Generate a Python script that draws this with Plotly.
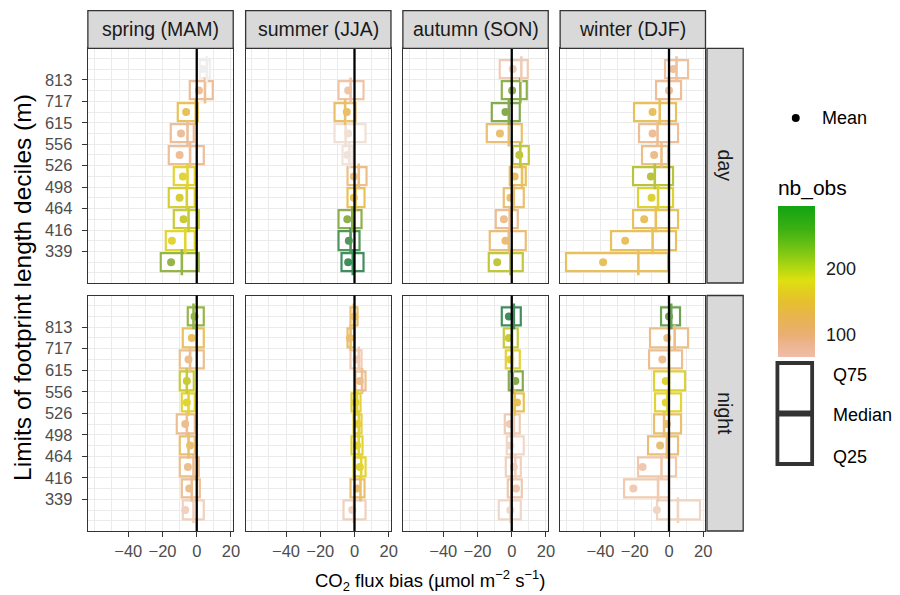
import plotly.graph_objects as go
from plotly.subplots import make_subplots

# ---------------- data ----------------
seasons = ["spring (MAM)", "summer (JJA)", "autumn (SON)", "winter (DJF)"]
periods = ["day", "night"]
decile_labels = ["339", "416", "464", "498", "526", "556", "615", "717", "813"]
bins = [1, 2, 3, 4, 5, 6, 7, 8, 9, 10]  # bottom (< 339) to top (> 813)

# day
q25_spring_day = [-20.8, -18.3, -13.5, -16.0, -13.1, -16.4, -15.4, -11.2, -3.9, 1.9]
med_spring_day = [-8.7, -6.7, -4.8, -5.8, -5.4, -3.9, -5.4, -0.6, 4.8, 5.8]
q75_spring_day = [1.0, -1.0, 1.5, -1.0, -1.0, 4.4, -1.9, 0.6, 9.6, 7.7]
mean_spring_day = [-15.0, -14.5, -7.7, -10.0, -8.1, -10.0, -9.2, -6.2, 1.3, 3.3]
nb_spring_day = [220, 170, 190, 180, 170, 90, 90, 130, 90, 30]

q25_summer_day = [-7.5, -9.1, -9.1, -4.2, -3.9, -7.1, -11.9, -11.6, -9.4, None]
med_summer_day = [-1.0, -2.3, -1.3, 0.6, 2.5, -3.0, -5.2, -5.5, -2.3, None]
q75_summer_day = [5.4, 3.1, 4.4, 6.0, 7.3, -1.3, 6.4, 0.6, 5.4, None]
mean_summer_day = [-3.7, -3.3, -4.2, -0.4, -0.4, -4.2, -3.7, -4.5, -3.7, None]
nb_summer_day = [280, 265, 225, 130, 100, 45, 50, 120, 80, None]

q25_autumn_day = [-13.3, -12.9, -9.4, -4.6, -1.2, 0.6, -14.3, -11.4, -5.6, -6.9]
med_autumn_day = [-0.8, -1.7, -1.2, 1.2, 6.0, 5.0, -1.7, -1.7, 5.0, 5.6]
q75_autumn_day = [6.4, 8.3, 3.7, 6.9, 8.5, 9.8, 6.0, 5.0, 8.9, 9.4]
mean_autumn_day = [-8.5, -3.7, -4.6, -0.8, 1.7, 4.4, -6.9, -3.7, 0.2, 0.6]
nb_autumn_day = [195, 110, 95, 115, 125, 195, 115, 230, 225, 70]

q25_winter_day = [-60.1, -34.1, -21.0, -17.9, -21.0, -15.8, -17.3, -20.2, -7.3, -2.3]
med_winter_day = [-17.9, -9.6, -7.7, -6.4, -8.3, -4.4, -6.7, -5.4, 0.0, 4.4]
q75_winter_day = [-0.6, 4.2, 5.2, 2.3, 2.3, -0.6, 5.2, 4.4, 7.1, 11.0]
mean_winter_day = [-38.5, -25.6, -14.5, -10.2, -10.6, -8.7, -9.6, -9.6, 0.0, 2.5]
nb_winter_day = [125, 125, 125, 175, 200, 100, 90, 125, 90, 85]

# night
q25_spring_night = [-8.3, -8.7, -9.6, -9.6, -11.6, -8.7, -10.0, -9.6, -8.1, -5.4]
med_spring_night = [-1.9, -2.9, -1.9, -4.8, -5.8, -4.8, -5.8, -3.9, 0.0, -1.9]
q75_spring_night = [3.9, 1.9, 1.3, -1.3, -1.3, -1.0, -1.5, 3.9, 4.4, 3.9]
mean_spring_night = [-6.7, -4.4, -5.2, -3.9, -6.7, -5.8, -5.8, -4.8, -2.9, -1.3]
nb_spring_night = [65, 95, 95, 115, 95, 170, 190, 95, 125, 220]

q25_summer_night = [-6.6, -2.3, -0.8, -1.7, -0.4, -1.7, 0.6, -2.3, -3.9, -2.3]
med_summer_night = [-0.4, 3.5, 3.9, 2.5, 2.5, 1.5, 4.4, 2.5, -2.3, -0.4]
q75_summer_night = [6.7, 5.8, 6.4, 4.8, 4.4, 3.5, 6.4, 4.4, 0.0, 1.9]
mean_summer_night = [-1.3, 1.5, 3.1, 1.5, 1.9, 0.6, 3.1, 1.2, -2.7, 0.0]
nb_summer_night = [65, 115, 170, 170, 160, 165, 95, 70, 115, 115]

q25_autumn_night = [-7.5, -2.3, -3.7, -2.7, -4.2, 0.6, -1.7, -3.7, -4.6, -5.6]
med_autumn_night = [-0.8, -0.2, 2.1, 0.2, 1.2, 1.7, 0.6, 0.6, 0.2, 1.2]
q75_autumn_night = [5.4, 6.0, 5.6, 7.3, 5.0, 6.9, 6.4, 4.6, 3.7, 5.6]
mean_autumn_night = [-0.8, 2.5, 1.2, -0.8, -1.2, 3.1, 2.1, -0.8, -1.7, -1.7]
nb_autumn_night = [60, 75, 65, 60, 70, 130, 230, 160, 190, 280]

q25_winter_night = [-6.7, -26.0, -17.9, -12.1, -8.7, -8.3, -8.7, -11.6, -11.0, -4.8]
med_winter_night = [5.2, -6.4, -4.4, -1.3, -2.9, -1.0, 0.0, 0.0, 3.3, 1.3]
q75_winter_night = [17.9, 0.0, 4.2, 5.2, 7.1, 7.1, 9.2, 7.7, 11.0, 6.4]
mean_winter_night = [-7.1, -20.8, -15.4, -5.2, -1.3, -1.9, -1.9, -3.9, -1.0, 0.0]
nb_winter_night = [62, 72, 75, 110, 115, 170, 175, 95, 100, 245]

nb_min, nb_max = 66, 295
nb_ticks = [100, 200]

panels = {
    ("day", 0): (q25_spring_day, med_spring_day, q75_spring_day, mean_spring_day, nb_spring_day),
    ("day", 1): (q25_summer_day, med_summer_day, q75_summer_day, mean_summer_day, nb_summer_day),
    ("day", 2): (q25_autumn_day, med_autumn_day, q75_autumn_day, mean_autumn_day, nb_autumn_day),
    ("day", 3): (q25_winter_day, med_winter_day, q75_winter_day, mean_winter_day, nb_winter_day),
    ("night", 0): (q25_spring_night, med_spring_night, q75_spring_night, mean_spring_night, nb_spring_night),
    ("night", 1): (q25_summer_night, med_summer_night, q75_summer_night, mean_summer_night, nb_summer_night),
    ("night", 2): (q25_autumn_night, med_autumn_night, q75_autumn_night, mean_autumn_night, nb_autumn_night),
    ("night", 3): (q25_winter_night, med_winter_night, q75_winter_night, mean_winter_night, nb_winter_night),
}

# ---------------- styles ----------------
OFF = 8  # page body margin
W, H = 900 - OFF, 595 - OFF
FONT = "Liberation Sans, Arial, sans-serif"

mark_stops = [(30, "#EEEEEE"), (55, "#F2DCD0"), (70, "#F0CCB4"), (90, "#EDBE98"),
              (110, "#EBBE78"), (125, "#E9C05E"), (150, "#E6CC40"), (170, "#E2D432"),
              (190, "#C8CA38"), (210, "#A8BE44"), (230, "#84AC4E"), (260, "#56985A"),
              (285, "#3C8C5E")]


def hex2rgb(h):
    h = h.lstrip("#")
    return tuple(int(h[i:i + 2], 16) for i in (0, 2, 4))


def nb_color(v):
    if v <= mark_stops[0][0]:
        return mark_stops[0][1]
    for (a, ca), (b, cb) in zip(mark_stops[:-1], mark_stops[1:]):
        if v <= b:
            t = (v - a) / (b - a)
            ra, rb = hex2rgb(ca), hex2rgb(cb)
            r = [round(ra[i] + t * (rb[i] - ra[i])) for i in range(3)]
            return "rgb(%d,%d,%d)" % tuple(r)
    return mark_stops[-1][1]


cb_colors = [(66, "#EFBEA8"), (85, "#EDB490"), (100, "#E9AF72"), (125, "#E8B450"),
             (150, "#E5C02E"), (170, "#E2D21A"), (182, "#DFE010"), (200, "#B4D810"),
             (230, "#74C414"), (260, "#3CB012"), (295, "#12A412")]
colorscale = [[(v - nb_min) / (nb_max - nb_min), c] for v, c in cb_colors]

col_px = [(88.5, 235.0), (247.5, 394.0), (406.0, 552.5), (564.5, 711.0)]
row_px = [(48.3, 283.0), (295.5, 531.0)]
XR = [-63.6, 21.3]
YR = [0.03, 10.97]
CB_X0, CB_X1, CB_Y0, CB_Y1 = 784.0, 821.0, 206.7, 356.7  # colour bar box (page px)


def px(x):
    return (x - OFF) / W


def py(y):
    return 1 - (y - OFF) / H


fig = make_subplots(rows=2, cols=4)

for (per, ci), (q25, med, q75, mn, nb) in panels.items():
    ri = periods.index(per)
    idx = [i for i in range(len(bins)) if q25[i] is not None]
    yy = [bins[i] for i in idx]
    cols = [nb_color(nb[i]) for i in idx]
    fig.add_trace(go.Bar(
        orientation="h", y=yy, base=[q25[i] for i in idx],
        x=[q75[i] - q25[i] for i in idx], width=0.85,
        marker=dict(color="white", line=dict(color=cols, width=2.2)),
        showlegend=False, hoverinfo="skip"), row=ri + 1, col=ci + 1)
    fig.add_trace(go.Scatter(
        x=[med[i] for i in idx], y=yy, mode="markers",
        marker=dict(symbol="line-ns", size=18.5, line=dict(color=cols, width=2.6)),
        showlegend=False, hoverinfo="skip"), row=ri + 1, col=ci + 1)
    fig.add_trace(go.Scatter(
        x=[mn[i] for i in idx], y=yy, mode="markers",
        marker=dict(symbol="circle", size=8, color=cols, line=dict(width=0)),
        showlegend=False, hoverinfo="skip"), row=ri + 1, col=ci + 1)

# colour bar carrier
fig.add_trace(go.Scatter(
    x=[None, None], y=[None, None], mode="markers", showlegend=False,
    marker=dict(color=[nb_min, nb_max], cmin=nb_min, cmax=nb_max, colorscale=colorscale,
                showscale=True,
                colorbar=dict(x=px(CB_X0), xanchor="left", xpad=0, ypad=0,
                              y=py(CB_Y1), yanchor="bottom",
                              len=CB_Y1 - CB_Y0 + 30, lenmode="pixels",
                              thickness=CB_X1 - CB_X0,
                              outlinewidth=0, ticks="outside", tickcolor="rgba(0,0,0,0)",
                              ticklen=8, tickvals=nb_ticks,
                              tickfont=dict(size=18, color="#1A1A1A", family=FONT),
                              title=dict(text="nb_obs", side="top",
                                         font=dict(size=21, color="#000000", family=FONT))))),
    row=1, col=1)

shapes = []
annotations = []

# white tick marks on the colour bar
for v in nb_ticks:
    yv = CB_Y1 - (v - nb_min) / (nb_max - nb_min) * (CB_Y1 - CB_Y0)
    for a, b in [(CB_X0, CB_X0 + 7), (CB_X1 - 7, CB_X1)]:
        shapes.append(dict(type="line", xref="paper", yref="paper",
                           x0=px(a), x1=px(b), y0=py(yv), y1=py(yv),
                           line=dict(color="white", width=1.3), layer="above"))

for ri in range(2):
    for ci in range(4):
        n = ri * 4 + ci + 1
        xa = "xaxis" if n == 1 else "xaxis%d" % n
        ya = "yaxis" if n == 1 else "yaxis%d" % n
        bottom = ri == 1
        left = ci == 0
        fig.layout[xa].update(
            domain=[px(col_px[ci][0]), px(col_px[ci][1])], range=XR,
            tickvals=[-40, -20, 0, 20], showticklabels=bottom,
            ticks="outside" if bottom else "", ticklen=5, tickwidth=1.2, tickcolor="#333333",
            tickfont=dict(size=16.5, color="#4D4D4D", family=FONT),
            showgrid=True, gridcolor="#EBEBEB", gridwidth=1.3, zeroline=False,
            minor=dict(tickvals=[-60, -50, -30, -10, 10], showgrid=True,
                       gridcolor="#EBEBEB", gridwidth=1.0),
            showline=True, mirror=True, linecolor="#333333", linewidth=1.3)
        fig.layout[ya].update(
            domain=[py(row_px[ri][1]), py(row_px[ri][0])], range=YR,
            tickvals=[b + 0.5 for b in bins[:-1]], ticktext=decile_labels,
            showticklabels=left, ticks="outside" if left else "", ticklen=5,
            tickwidth=1.2, tickcolor="#333333", ticklabelstandoff=6,
            tickfont=dict(size=16.5, color="#4D4D4D", family=FONT),
            showgrid=True, gridcolor="#EBEBEB", gridwidth=1.3, zeroline=False,
            minor=dict(tickvals=[b - 0.5 for b in bins] + [10.5] + bins, showgrid=True,
                       gridcolor="#EBEBEB", gridwidth=1.0),
            showline=True, mirror=True, linecolor="#333333", linewidth=1.3)
        xr = "x" if n == 1 else "x%d" % n
        yr = "y" if n == 1 else "y%d" % n
        shapes.append(dict(type="line", xref=xr, yref=yr + " domain", x0=0, x1=0, y0=0, y1=1,
                           line=dict(color="black", width=2.3), layer="above"))

# strips
for ci, s in enumerate(seasons):
    shapes.append(dict(type="rect", xref="paper", yref="paper",
                       x0=px(col_px[ci][0]), x1=px(col_px[ci][1]), y0=py(48.3), y1=py(10.7),
                       fillcolor="#D9D9D9", line=dict(color="#333333", width=1.3)))
    annotations.append(dict(x=px((col_px[ci][0] + col_px[ci][1]) / 2), y=py(29.5),
                            xref="paper", yref="paper", xanchor="center", yanchor="middle",
                            text=s, showarrow=False,
                            font=dict(size=19.5, color="#1A1A1A", family=FONT)))
for ri, p in enumerate(periods):
    shapes.append(dict(type="rect", xref="paper", yref="paper",
                       x0=px(712.5), x1=px(749), y0=py(row_px[ri][1]), y1=py(row_px[ri][0]),
                       fillcolor="#D9D9D9", line=dict(color="#333333", width=1.3)))
    annotations.append(dict(x=px(730.7), y=py((row_px[ri][0] + row_px[ri][1]) / 2),
                            xref="paper", yref="paper", xanchor="center", yanchor="middle",
                            text=p, showarrow=False, textangle=90,
                            font=dict(size=19.5, color="#1A1A1A", family=FONT)))

# axis titles
annotations.append(dict(x=px(22), y=py(287), xref="paper", yref="paper",
                        xanchor="center", yanchor="middle",
                        text="Limits of footprint length deciles (m)", showarrow=False,
                        textangle=-90, font=dict(size=24.5, color="#000000", family=FONT)))
annotations.append(dict(x=px(433), y=py(580), xref="paper", yref="paper",
                        xanchor="center", yanchor="middle",
                        text="CO<sub>2</sub> flux bias (µmol m<sup>−2</sup> s<sup>−1</sup>)",
                        showarrow=False, font=dict(size=18.5, color="#000000", family=FONT)))

# legend: mean
shapes.append(dict(type="circle", xref="paper", yref="paper",
                   x0=px(798), x1=px(806), y0=py(122), y1=py(114),
                   fillcolor="black", line=dict(width=0)))
annotations.append(dict(x=px(826), y=py(118.5), xref="paper", yref="paper",
                        xanchor="left", yanchor="middle",
                        text="Mean", showarrow=False,
                        font=dict(size=18, color="#000000", family=FONT)))

# legend: box glyph
shapes.append(dict(type="rect", xref="paper", yref="paper",
                   x0=px(783.5), x1=px(818.5), y0=py(464), y1=py(363),
                   fillcolor="white", line=dict(color="#333333", width=3.8)))
shapes.append(dict(type="line", xref="paper", yref="paper",
                   x0=px(783.5), x1=px(818.5), y0=py(413.5), y1=py(413.5),
                   line=dict(color="#333333", width=6)))
for txt, yy in [("Q75", 375), ("Median", 415), ("Q25", 457)]:
    annotations.append(dict(x=px(838), y=py(yy), xref="paper", yref="paper",
                            xanchor="left", yanchor="middle",
                            text=txt, showarrow=False,
                            font=dict(size=18, color="#000000", family=FONT)))

fig.update_layout(
    width=W, height=H, margin=dict(l=0, r=0, t=0, b=0),
    paper_bgcolor="white", plot_bgcolor="white", showlegend=False,
    bargap=0, font=dict(family=FONT),
    shapes=shapes, annotations=annotations)

fig.write_html("out.html")
